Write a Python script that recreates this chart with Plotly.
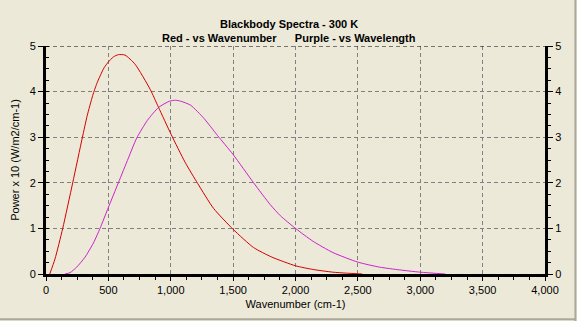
import plotly.graph_objects as go

# Spectral power (x10)
red_x = [30, 72, 134, 214, 292, 330, 375, 405, 433, 465, 500, 540, 580, 634, 714, 835,
         901, 1005, 1115, 1217, 1343, 1500, 1664, 1811, 2000, 2139, 2300, 2400, 2535]
red_y = [0.0, 0.33, 1.0, 2.0, 3.0, 3.47, 3.92, 4.16, 4.34, 4.52, 4.65, 4.76, 4.81, 4.80,
         4.60, 4.05, 3.66, 3.05, 2.45, 1.98, 1.44, 0.98, 0.58, 0.37, 0.18, 0.10, 0.04,
         0.02, 0.0]

purple_x = [152, 193, 246, 313, 380, 433, 500, 580, 660, 727, 813, 901, 990, 1040,
            1080, 1160, 1267, 1374, 1500, 1664, 1798, 1878, 2000, 2139, 2300, 2500,
            2675, 2835, 3000, 3200]
purple_y = [0.0, 0.03, 0.15, 0.37, 0.68, 1.0, 1.46, 2.0, 2.54, 2.98, 3.37, 3.65, 3.79, 3.81,
            3.79, 3.70, 3.41, 3.04, 2.62, 2.0, 1.52, 1.28, 1.0, 0.72, 0.47, 0.26,
            0.15, 0.09, 0.04, 0.0]

x_ticks = [0, 500, 1000, 1500, 2000, 2500, 3000, 3500, 4000]
y_ticks = [0, 1, 2, 3, 4, 5]

title_lines = ["Blackbody Spectra - 300 K",
               "Red - vs Wavenumber\u00a0\u00a0\u00a0\u00a0\u00a0\u00a0Purple - vs Wavelength"]

BG = "#ECE9D8"
FONT = "Liberation Sans, Arial, sans-serif"
AXFONT = dict(family=FONT, size=11, color="black")

fig = go.Figure()
fig.add_trace(go.Scatter(x=red_x, y=red_y, mode="lines",
                         line=dict(color="#D40000", width=1, shape="spline", smoothing=0.6),
                         hoverinfo="skip"))
fig.add_trace(go.Scatter(x=purple_x, y=purple_y, mode="lines",
                         line=dict(color="#CC22CC", width=1, shape="spline", smoothing=0.6),
                         hoverinfo="skip"))
# carrier for the right-hand axis
fig.add_trace(go.Scatter(x=[None], y=[None], yaxis="y2", showlegend=False))

grid = dict(showgrid=True, gridcolor="#808080", gridwidth=1, griddash="4px,3px")

fig.update_layout(
    width=577, height=321,
    margin=dict(l=46, r=32, t=46, b=47),
    paper_bgcolor=BG, plot_bgcolor=BG,
    showlegend=False,
    font=AXFONT,
    xaxis=dict(range=[0, 4000], tickvals=x_ticks, tickformat=",d",
               showline=True, linecolor="black", linewidth=3,
               ticks="outside", ticklen=4, tickcolor="black", tickfont=AXFONT,
               minor=dict(dtick=125, tick0=0, ticks="outside", ticklen=3,
                          tickcolor="black", showgrid=False),
               zeroline=False,
               title=dict(text="Wavenumber (cm-1)", standoff=6, font=AXFONT),
               **grid),
    yaxis=dict(range=[0, 5], tickvals=y_ticks,
               showline=True, linecolor="black", linewidth=3,
               ticks="outside", ticklen=5, tickcolor="black", tickfont=AXFONT,
               minor=dict(dtick=0.25, tick0=0, ticks="inside", ticklen=3,
                          tickcolor="black", showgrid=False),
               zeroline=False,
               title=dict(text="Power x 10 (W/m2/cm-1)", standoff=8, font=AXFONT),
               **grid),
    yaxis2=dict(range=[0, 5], tickvals=y_ticks, overlaying="y", side="right",
                showline=True, linecolor="black", linewidth=3,
                ticks="outside", ticklen=5, tickcolor="black", tickfont=AXFONT,
                minor=dict(dtick=0.25, tick0=0, ticks="outside", ticklen=3,
                           tickcolor="black", showgrid=False),
                showgrid=False, zeroline=False),
)

# dashed top edge of the plotting area
fig.add_shape(type="line", xref="x", yref="y", x0=0, x1=4000, y0=5, y1=5,
              line=dict(color="black", width=1, dash="4px,3px"))

# window frame on the right and bottom
fig.add_shape(type="line", xref="paper", yref="paper", x0=1.061, x1=1.061,
              y0=-0.22, y1=1.3, line=dict(color="#ACA899", width=2))
fig.add_shape(type="line", xref="paper", yref="paper", x0=-0.1, x1=1.061,
              y0=-0.199, y1=-0.199, line=dict(color="#ACA899", width=2))

for text, ypos in zip(title_lines, [1.097, 1.033]):
    fig.add_annotation(text=f"<b>{text}</b>", xref="paper", yref="paper",
                       x=0.486, y=ypos, xanchor="center", yanchor="middle",
                       showarrow=False, font=dict(family=FONT, size=11, color="black"))

fig.write_html("out.html")
